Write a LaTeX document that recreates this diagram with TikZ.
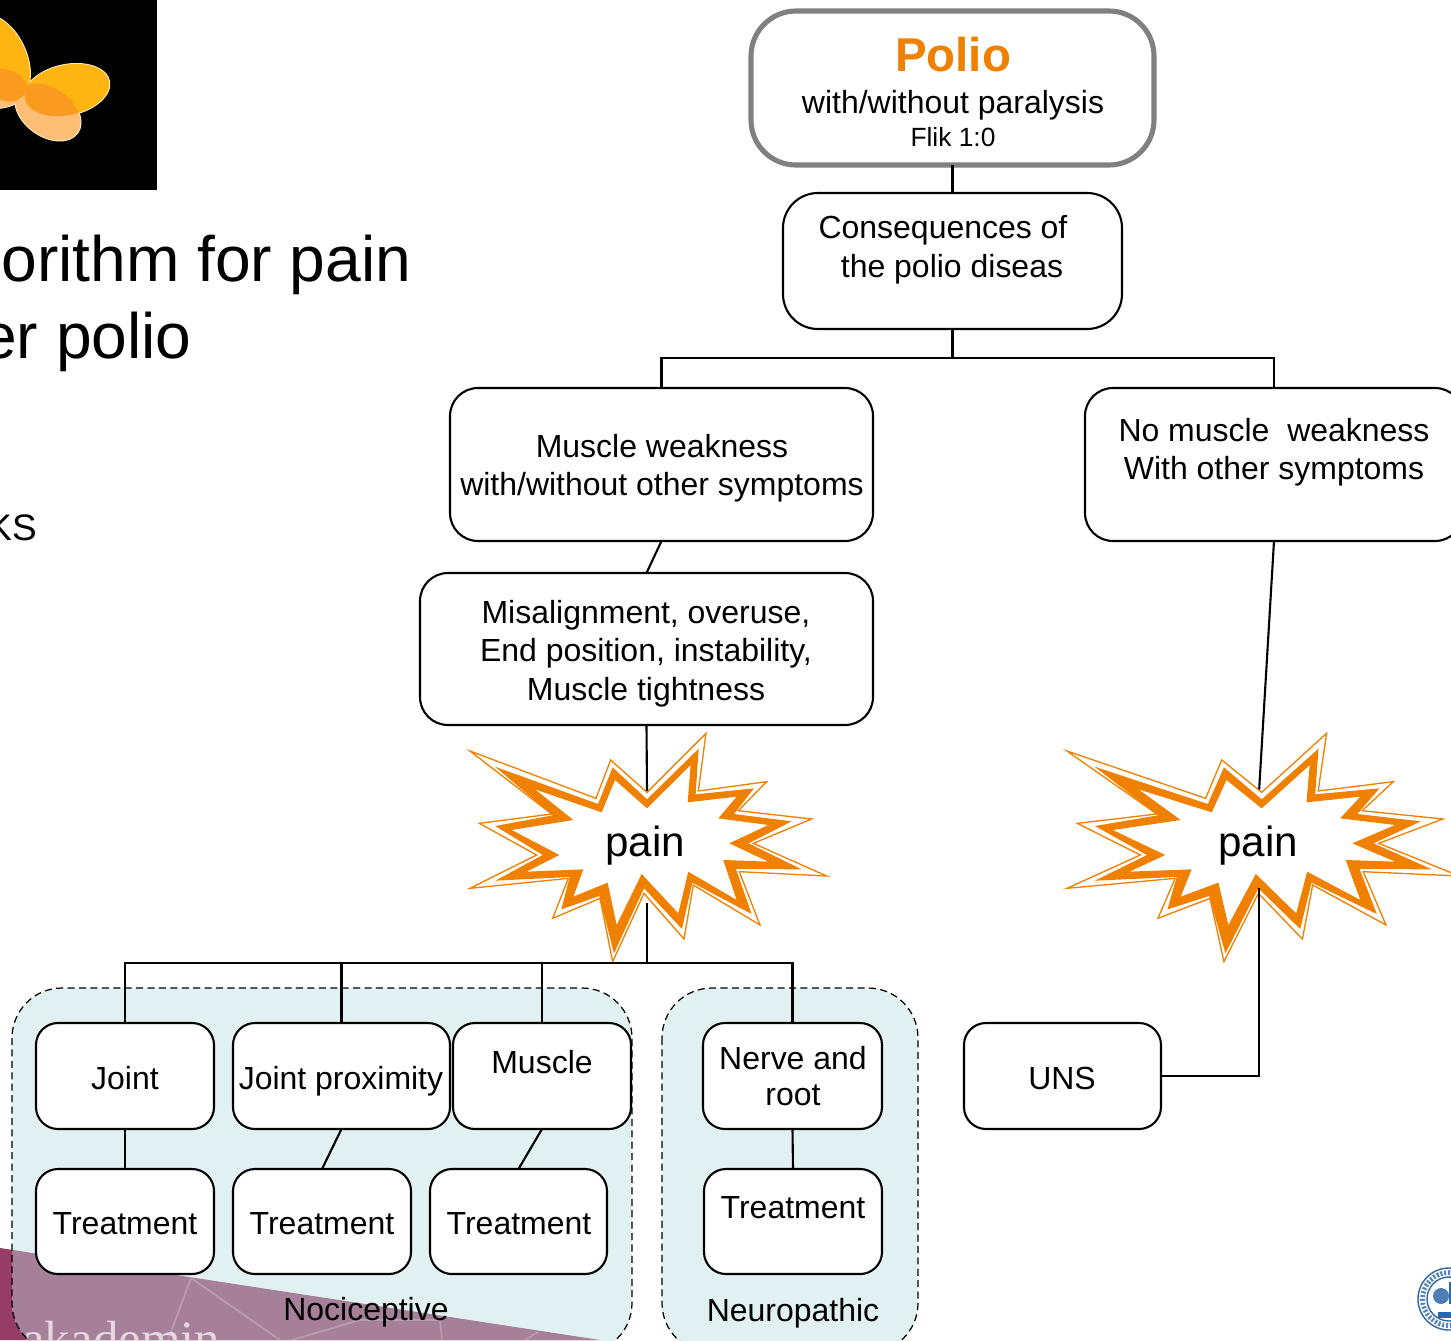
\documentclass[tikz,border=0pt]{standalone}
\usepackage{fontspec}
\setmainfont{Liberation Sans}
\newfontfamily\serifakad{Liberation Serif}
\definecolor{orangeP}{HTML}{F08000}
\definecolor{groupfill}{HTML}{E1F1F1}
\definecolor{maroonA}{HTML}{963D66}
\definecolor{maroonB}{HTML}{A67F99}
\definecolor{sealblue}{HTML}{2F66A6}
\definecolor{wingY}{HTML}{FFB511}
\definecolor{wingP}{HTML}{FFBE76}
\definecolor{wingO}{HTML}{FA9A1E}
\definecolor{wingE}{HTML}{FFEBC8}
\tikzset{
  boxbase/.style={draw=black,fill=white,line width=1.2pt,rectangle,inner sep=0pt,outer sep=0pt},
  lbl/.style={anchor=base,inner sep=0pt,outer sep=0pt,font=\fontsize{18.2}{21}\selectfont},
  conn/.style={draw=black,line width=1.2pt},
  grp/.style={draw=black,line width=0.7pt,dash pattern=on 4pt off 2.5pt},
  grpfill/.style={fill=groupfill,rectangle,inner sep=0pt,rounded corners=1cm},
}
% \bx{name}{x1}{y1}{x2}{y2}{radius}
\newcommand{\bx}[6]{\node[boxbase,rounded corners=#6*0.02cm,minimum width={(#4-#2)*0.02cm},minimum height={(#5-#3)*0.02cm}] (#1) at ({(#2+#4)/2},{(#3+#5)/2}) {};}
\newcommand{\burst}[3]{%
\begin{scope}[shift={(#1,#2)},x=#3*0.02cm/3,y=-0.02cm/3]
\filldraw[draw=orangeP,fill=white,line width=0.75pt,miter limit=20,line join=miter]
 (30,63)--(408,205)--(452,90)--(561,187)--(738,10)--(715,183)--(920,155)--(835,242)--(1055,267)--(880,340)--(1100,438)--(838,425)--(900,585)--(700,465)--(672,627)--(552,490)--(458,695)--(420,505)--(278,565)--(325,445)--(30,475)--(230,375)--(58,280)--(275,252)--cycle;
\fill[orangeP,even odd rule]
 (105,110)--(414,222)--(458,112)--(561,208)--(716,56)--(707,193)--(882,175)--(822,252)--(995,274)--(866,340)--(1025,418)--(828,417)--(875,552)--(697,458)--(666,597)--(552,475)--(462,670)--(418,498)--(304,538)--(329,441)--(106,452)--(248,375)--(106,288)--(278,256)--cycle
 (225,178)--(425,247)--(465,150)--(561,235)--(692,105)--(683,217)--(830,200)--(775,265)--(925,285)--(808,340)--(925,395)--(790,390)--(830,510)--(685,425)--(655,550)--(545,432)--(470,585)--(443,458)--(340,500)--(370,418)--(200,425)--(298,375)--(155,300)--(340,270)--cycle;
\end{scope}}
\begin{document}
\begin{tikzpicture}[x=0.02cm,y=-0.02cm]
\useasboundingbox (0,0) rectangle (1451,1340);
\fill[white] (0,0) rectangle (1451,1340);

% logo
\begin{scope}
\clip (0,0) rectangle (157,190);
\fill[black] (0,0) rectangle (157,190);
\fill[wingE,rotate around={-35:(48,112)}] (48,112) ellipse [x radius=37,y radius=25];
\fill[wingE,rotate around={12:(67,90)}] (67,90) ellipse [x radius=44,y radius=26];
\fill[wingE,rotate around={-65:(-2,58)}] (-2,58) ellipse [x radius=47,y radius=29];
\fill[wingE] (-5,88) ellipse [x radius=33,y radius=21];
\fill[wingP,rotate around={-35:(48,112)}] (48,112) ellipse [x radius=36,y radius=24];
\fill[wingP] (-5,88) ellipse [x radius=32,y radius=20];
\fill[wingY,rotate around={12:(67,90)}] (67,90) ellipse [x radius=43,y radius=25];
\fill[wingY,rotate around={-65:(-2,58)}] (-2,58) ellipse [x radius=46,y radius=28];
\begin{scope}
\clip[rotate around={12:(67,90)}] (67,90) ellipse [x radius=43,y radius=25];
\fill[wingO,rotate around={-35:(48,112)}] (48,112) ellipse [x radius=36,y radius=24];
\end{scope}
\begin{scope}
\clip[rotate around={-65:(-2,58)}] (-2,58) ellipse [x radius=46,y radius=28];
\fill[wingO] (-5,88) ellipse [x radius=32,y radius=20];
\end{scope}
\end{scope}

% title fragments
\node[anchor=base west,inner sep=0pt,font=\fontsize{36.5}{40}\selectfont] (title1) at (1,281) {orithm for pain};
\node[anchor=base east,inner sep=0pt,font=\fontsize{36.5}{40}\selectfont] (title2) at (192,358) {er polio};
\node[anchor=base east,inner sep=0pt,font=\fontsize{21}{25}\selectfont] (frag) at (37,540) {KS};

% footer band
\fill[maroonA] (0,1248)--(600,1340)--(0,1340)--cycle;

% groups
\node[grpfill,minimum width=12.4cm,minimum height=7.3cm] (nocic) at (322,1170.5) {};
\node[grpfill,minimum width=5.12cm,minimum height=7.3cm] (neuro) at (790,1170.5) {};
\begin{scope}
\clip[rounded corners=1cm] (12,988) rectangle (632,1353);
\fill[maroonB] (0,1248)--(600,1340)--(0,1340)--cycle;
\draw[white,opacity=.22,line width=1pt] (191,1278)--(168,1340) (191,1278)--(280,1340) (292,1340)--(360,1320)--(440,1320)--(442,1340) (538,1332)--(525,1340);
\node[anchor=base west,inner sep=0pt,text=white!70!maroonB,font=\serifakad\fontsize{29}{32}\selectfont] (akad) at (22,1356) {akademin};
\end{scope}
\draw[grp,rounded corners=1cm] (12,988) rectangle (632,1353);
\draw[grp,rounded corners=1cm] (662,988) rectangle (918,1353);

% connectors
\coordinate (busA) at (952.5,358);
\coordinate (painTopA) at (647,792);
\coordinate (painBotA) at (647,903);
\coordinate (busB) at (647,963);
\coordinate (painTopB) at (1259,792);
\coordinate (painBotB) at (1259,888);

\bx{polio}{751}{11}{1154}{165}{45}
\bx{cons}{783}{193}{1122}{329}{35}
\bx{mw}{450}{388}{873}{541}{28}
\bx{nomw}{1085}{388}{1463}{541}{28}
\bx{mis}{420}{573}{873}{725}{28}
\bx{joint}{36}{1023}{214}{1129}{22}
\bx{jprox}{233}{1023}{450}{1129}{22}
\bx{musc}{453}{1023}{631}{1129}{22}
\bx{nerve}{703}{1023}{882}{1129}{22}
\bx{uns}{964}{1023}{1161}{1129}{22}
\bx{treatA}{36}{1169}{214}{1274}{22}
\bx{treatB}{233}{1169}{411}{1274}{22}
\bx{treatC}{430}{1169}{607}{1274}{22}
\bx{treatD}{704}{1169}{882}{1274}{22}
\draw[draw=black!50,line width=2.9pt,rounded corners=0.9cm] (751,11) rectangle (1154,165);

\draw[conn] (polio.south)--(cons.north);
\draw[conn] (cons.south)--(busA);
\draw[conn] (mw.north)|-(busA)-|(nomw.north);
\draw[conn] (mw.south)--(mis.north);
\draw[conn] (mis.south)--(painTopA);
\draw[conn] (nomw.south)--(painTopB);
\draw[conn] (joint.south)--(treatA.north);
\draw[conn] (jprox.south)--(treatB.north);
\draw[conn] (musc.south)--(treatC.north);
\draw[conn] (nerve.south)--(treatD.north);

\burst{460}{730}{1}
\burst{1056}{730}{1.1}

\draw[conn] (painBotA)--(busB);
\draw[conn] (joint.north)|-(busB);
\draw[conn] (jprox.north)--(jprox.north|-busB);
\draw[conn] (musc.north)--(musc.north|-busB);
\draw[conn] (nerve.north)|-(busB);
\draw[conn] (painBotB)|-(uns.east);

% labels
\node[lbl,text=orangeP,font=\bfseries\fontsize{27}{30}\selectfont] (tPolio) at (953,71) {Polio};
\node[lbl] (tPolioB) at (953,113) {with/without paralysis};
\node[lbl,font=\fontsize{15}{18}\selectfont] (tFlik) at (953,146) {Flik 1:0};
\node[lbl] (tConsA) at (943,238) {Consequences of};
\node[lbl] (tConsB) at (952,277) {the polio diseas};
\node[lbl] (tMwA) at (662,457) {Muscle weakness};
\node[lbl] (tMwB) at (662,495) {with/without other symptoms};
\node[lbl] (tNoA) at (1274,441) {No muscle\ \ weakness};
\node[lbl] (tNoB) at (1274,479) {With other symptoms};
\node[lbl] (tMisA) at (646,623) {Misalignment, overuse,};
\node[lbl] (tMisB) at (646,661) {End position, instability,};
\node[lbl] (tMisC) at (646,700) {Muscle tightness};
\node[lbl,font=\fontsize{24}{28}\selectfont] (tPainA) at (645,856) {pain};
\node[lbl,font=\fontsize{24}{28}\selectfont] (tPainB) at (1258,856) {pain};
\node[lbl] (tJoint) at (125,1089) {Joint};
\node[lbl] (tJprox) at (341,1089) {Joint proximity};
\node[lbl] (tMusc) at (542,1073) {Muscle};
\node[lbl] (tNerveA) at (793,1069) {Nerve and};
\node[lbl] (tNerveB) at (793,1105) {root};
\node[lbl] (tUns) at (1062,1089) {UNS};
\node[lbl] (tTreatA) at (125,1234) {Treatment};
\node[lbl] (tTreatB) at (322,1234) {Treatment};
\node[lbl] (tTreatC) at (519,1234) {Treatment};
\node[lbl] (tTreatD) at (793,1218) {Treatment};
\node[lbl] (tNoc) at (366,1320) {Nociceptive};
\node[lbl] (tNeu) at (793,1321) {Neuropathic};

% seal
\draw[sealblue,line width=0.8pt] (1449,1299) circle [radius=31];
\draw[sealblue!80!white,line width=2.8pt,dash pattern=on 1.2pt off 1pt] (1449,1299) circle [radius=26.5];
\draw[sealblue,line width=0.8pt] (1449,1299) circle [radius=22];
\fill[sealblue!85!white] (1441,1296) circle [radius=8];
\fill[sealblue] (1438,1312) rectangle (1451,1318);
\fill[sealblue] (1449,1282) rectangle (1451,1304);
\end{tikzpicture}
\end{document}
